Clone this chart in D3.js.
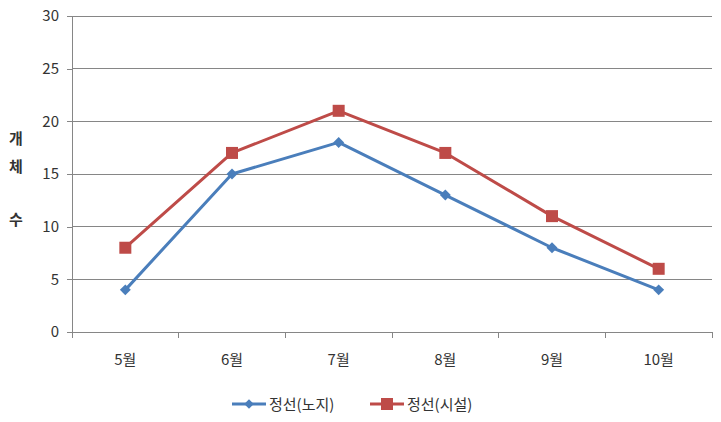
<!DOCTYPE html>
<html><head><meta charset="utf-8">
<script src="https://cdn.jsdelivr.net/npm/d3@7"></script>
<style>
body{margin:0;background:#fff;}
text{font-family:"Malgun Gothic","Noto Sans CJK KR",sans-serif;fill:#333;}
</style></head>
<body><svg id="c" width="721" height="422"></svg>
<script>
const categories = ["5월","6월","7월","8월","9월","10월"];
const seriesNames = ["정선(노지)","정선(시설)"];
const openField = [4,15,18,13,8,4];
const greenhouse = [8,17,21,17,11,6];
const yTicks = [0,5,10,15,20,25,30];
const colors = ["#4A7EBB","#BE4B48"];

const svg = d3.select("#c");
const L=72, R=712, T=16, B=332;
const x = d3.scaleBand().domain(categories).range([L,R]);
const y = d3.scaleLinear().domain([0,30]).range([B,T]);

// gridlines
svg.append("g").selectAll("line").data(yTicks.filter(d=>d>0)).join("line")
  .attr("x1",L).attr("x2",R).attr("y1",d=>y(d)).attr("y2",d=>y(d))
  .attr("stroke","#868686").attr("stroke-width",1).attr("shape-rendering","crispEdges");

// y axis
const ya = svg.append("g").attr("transform",`translate(${L},0)`)
  .call(d3.axisLeft(y).tickValues(yTicks).tickSize(5).tickPadding(8));
ya.select(".domain").attr("stroke","#868686").attr("shape-rendering","crispEdges");
ya.selectAll(".tick line").attr("stroke","#868686").attr("shape-rendering","crispEdges");
ya.selectAll(".tick text").attr("font-size",15).attr("fill","#333")
  .style("font-family",'"Malgun Gothic","Noto Sans CJK KR",sans-serif');

// x axis
const xa = svg.append("g").attr("transform",`translate(0,${B})`)
  .call(d3.axisBottom(x).tickSize(0).tickPadding(22));
xa.select(".domain").attr("stroke","#868686").attr("shape-rendering","crispEdges");
xa.selectAll(".tick text").attr("font-size",15).attr("fill","#333")
  .style("font-family",'"Malgun Gothic","Noto Sans CJK KR",sans-serif');
const edges = categories.map(c=>x(c)).concat([R]);
svg.append("g").selectAll("line").data(edges).join("line")
  .attr("x1",d=>d).attr("x2",d=>d).attr("y1",B).attr("y2",B+6)
  .attr("stroke","#868686").attr("shape-rendering","crispEdges");

// y title
const yt = ["개","체","","수"];
svg.append("g").selectAll("text").data(["개","체","수"]).join("text")
  .attr("x",16).attr("y",(d,i)=>[144,172,225][i]).attr("text-anchor","middle")
  .attr("font-size",15).attr("font-weight","bold").attr("fill","#222").text(d=>d);

const cx = c => x(c)+x.bandwidth()/2;
const data = [openField, greenhouse];
const line = d3.line().x((d,i)=>cx(categories[i])).y(d=>y(d));

data.forEach((vals,si)=>{
  svg.append("path").datum(vals).attr("d",line).attr("fill","none")
    .attr("stroke",colors[si]).attr("stroke-width",3).attr("stroke-linejoin","round");
});
// markers
svg.append("g").selectAll("path").data(openField).join("path")
  .attr("d",d3.symbol(d3.symbolDiamond2? d3.symbolSquare: d3.symbolSquare,60)())
  .attr("transform",(d,i)=>`translate(${cx(categories[i])},${y(d)}) rotate(45)`)
  .attr("fill",colors[0]);
svg.append("g").selectAll("rect").data(greenhouse).join("rect")
  .attr("x",(d,i)=>cx(categories[i])-6).attr("y",d=>y(d)-6)
  .attr("width",12).attr("height",12).attr("fill",colors[1]);

// legend
const lg = svg.append("g");
const lx = [232,370];
seriesNames.forEach((n,i)=>{
  const g = lg.append("g").attr("transform",`translate(${lx[i]},404)`);
  g.append("line").attr("x1",0).attr("x2",34).attr("y1",0).attr("y2",0)
    .attr("stroke",colors[i]).attr("stroke-width",3);
  if(i===0){
    g.append("path").attr("d",d3.symbol(d3.symbolSquare,45)()).attr("transform","translate(17,0) rotate(45)").attr("fill",colors[0]);
  } else {
    g.append("rect").attr("x",11).attr("y",-6).attr("width",12).attr("height",12).attr("fill",colors[1]);
  }
  g.append("text").attr("x",37).attr("y",5.5).attr("font-size",15).attr("fill","#333").text(n);
});
</script></body></html>
